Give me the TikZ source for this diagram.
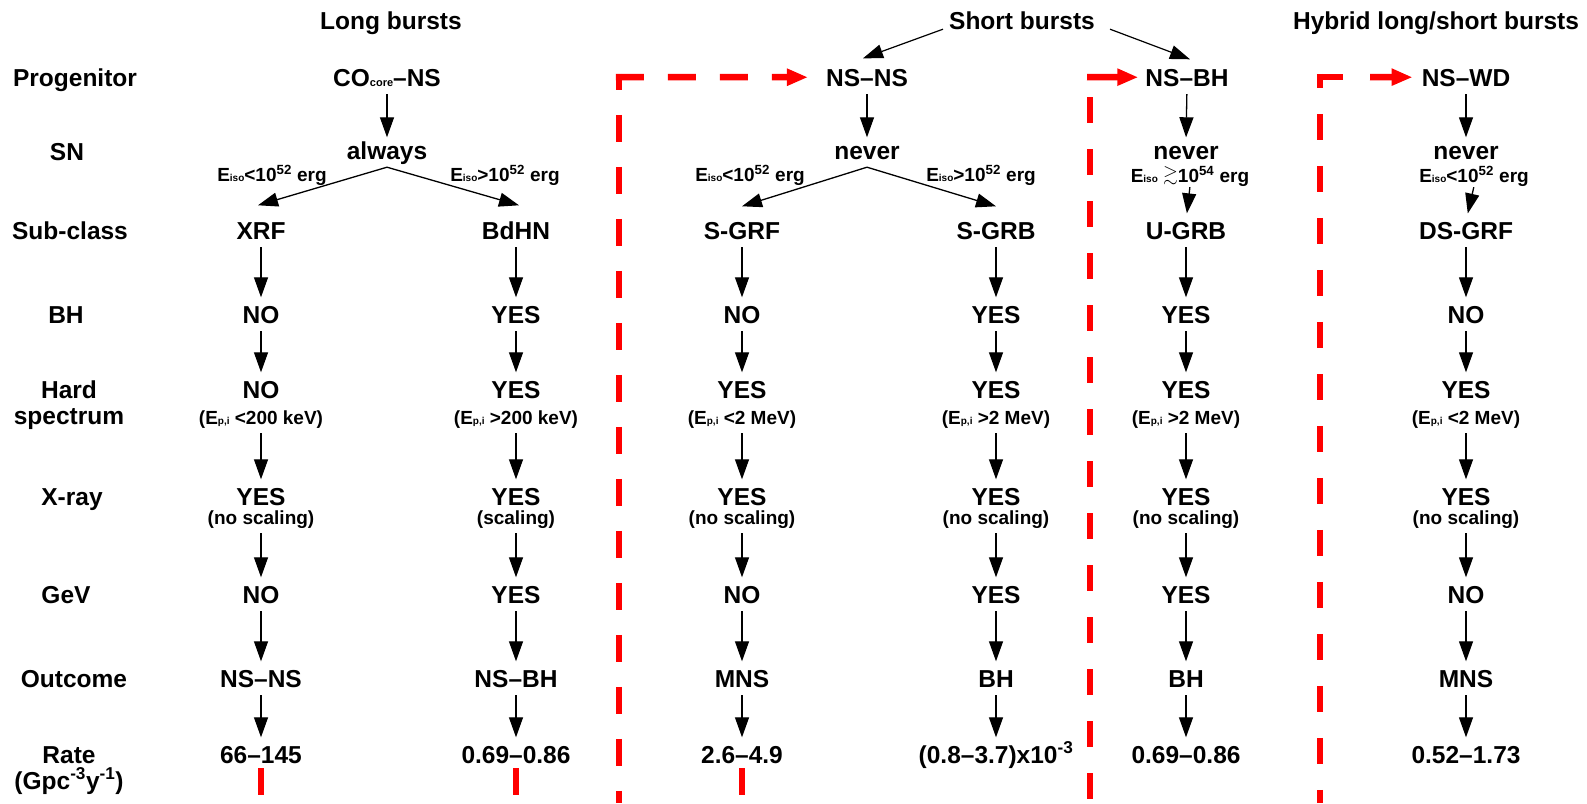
\documentclass[tikz,border=0pt]{standalone}
\usepackage{fontspec}
\usepackage{amssymb}
\setmainfont{Liberation Sans}
\usetikzlibrary{arrows.meta}
\newcommand\Ep{E{\fontsize{10}{10}\selectfont p,i}}
\newcommand\Ei{E{\fontsize{10}{10}\selectfont iso}}
\begin{document}
\begin{tikzpicture}[x=1pt,y=-1pt,
  every node/.style={inner sep=0pt, anchor=base},
  mainf/.style={font=\fontsize{24.5}{26}\selectfont\bfseries, text height=17.5pt, text depth=0pt},
  subf/.style={font=\fontsize{19}{21}\selectfont\bfseries, text height=14pt, text depth=1pt},
  eisof/.style={font=\fontsize{19}{21}\selectfont\bfseries, text height=14pt, text depth=4pt},
  arr/.style={draw=black, line width=1.3pt, -{Triangle[length=20pt,width=14pt]}, shorten <=8pt, shorten >=8pt},
  reddash/.style={draw=red, line width=6.5pt},
  redhead/.style={-{Triangle[length=21pt,width=16pt]}},
]
\useasboundingbox (0,0) rectangle (1587,803);
% titles
\node[mainf] (tl) at (391,29) {Long bursts};
\node[mainf] (ts) at (1022,29) {Short bursts};
\node[mainf] (th) at (1436,29) {Hybrid long/short bursts};
% row labels
\node[mainf] (lprog) at (75,86) {Progenitor};
\node[mainf] (lsn) at (67,160) {SN};
\node[mainf] (lsub) at (70,239) {Sub-class};
\node[mainf] (lbh) at (66,323) {BH};
\node[mainf] (lhard) at (69,398) {Hard};
\node[mainf] (lspec) at (69,424) {spectrum};
\node[mainf] (lxray) at (72,505) {X-ray};
\node[mainf] (lgev) at (66,603) {GeV};
\node[mainf] (lout) at (74,687) {Outcome};
\node[mainf] (lrate) at (69,763) {Rate};
\node[mainf] (lunit) at (69,789) {(Gpc\textsuperscript{-3}y\textsuperscript{-1})};
% progenitors
\node[mainf] (co) at (387,86) {CO{\fontsize{11}{11}\selectfont core}–NS};
\node[mainf] (nsns) at (867,86) {NS–NS};
\node[mainf] (nsbh) at (1187,86) {NS–BH};
\node[mainf] (nswd) at (1466,86) {NS–WD};
% SN
\node[mainf] (always) at (387,159) {always};
\node[mainf] (never1) at (867,159) {never};
\node[mainf] (never2) at (1186,159) {never};
\node[mainf] (never3) at (1466,159) {never};
% Eiso labels
\node[eisof] (ea1) at (272,181) {\Ei<10\textsuperscript{52} erg};
\node[eisof] (ea2) at (505,181) {\Ei>10\textsuperscript{52} erg};
\node[eisof] (ec1) at (750,181) {\Ei<10\textsuperscript{52} erg};
\node[eisof] (ec2) at (981,181) {\Ei>10\textsuperscript{52} erg};
\node[eisof] (ee) at (1190,182) {\Ei{} \raisebox{1.5pt}{$\gtrsim$}10\textsuperscript{54} erg};
\node[eisof] (ef) at (1474,182) {\Ei<10\textsuperscript{52} erg};
% column A
\node[mainf] (Asub) at (261,239) {XRF};
\node[mainf] (Abh) at (261,323) {NO};
\node[mainf] (Ahard) at (261,398) {NO};
\node[subf] (Ahs) at (261,424) {(\Ep{} <200 keV)};
\node[mainf] (Ax) at (261,505) {YES};
\node[subf] (Axs) at (261,524) {(no scaling)};
\node[mainf] (Ag) at (261,603) {NO};
\node[mainf] (Ao) at (261,687) {NS–NS};
\node[mainf] (Ar) at (261,763) {66–145};
% column B
\node[mainf] (Bsub) at (516,239) {BdHN};
\node[mainf] (Bbh) at (516,323) {YES};
\node[mainf] (Bhard) at (516,398) {YES};
\node[subf] (Bhs) at (516,424) {(\Ep{} >200 keV)};
\node[mainf] (Bx) at (516,505) {YES};
\node[subf] (Bxs) at (516,524) {(scaling)};
\node[mainf] (Bg) at (516,603) {YES};
\node[mainf] (Bo) at (516,687) {NS–BH};
\node[mainf] (Br) at (516,763) {0.69–0.86};
% column C
\node[mainf] (Csub) at (742,239) {S-GRF};
\node[mainf] (Cbh) at (742,323) {NO};
\node[mainf] (Chard) at (742,398) {YES};
\node[subf] (Chs) at (742,424) {(\Ep{} <2 MeV)};
\node[mainf] (Cx) at (742,505) {YES};
\node[subf] (Cxs) at (742,524) {(no scaling)};
\node[mainf] (Cg) at (742,603) {NO};
\node[mainf] (Co) at (742,687) {MNS};
\node[mainf] (Cr) at (742,763) {2.6–4.9};
% column D
\node[mainf] (Dsub) at (996,239) {S-GRB};
\node[mainf] (Dbh) at (996,323) {YES};
\node[mainf] (Dhard) at (996,398) {YES};
\node[subf] (Dhs) at (996,424) {(\Ep{} >2 MeV)};
\node[mainf] (Dx) at (996,505) {YES};
\node[subf] (Dxs) at (996,524) {(no scaling)};
\node[mainf] (Dg) at (996,603) {YES};
\node[mainf] (Do) at (996,687) {BH};
\node[mainf] (Dr) at (996,763) {(0.8–3.7)x10\textsuperscript{-3}};
% column E
\node[mainf] (Esub) at (1186,239) {U-GRB};
\node[mainf] (Ebh) at (1186,323) {YES};
\node[mainf] (Ehard) at (1186,398) {YES};
\node[subf] (Ehs) at (1186,424) {(\Ep{} >2 MeV)};
\node[mainf] (Ex) at (1186,505) {YES};
\node[subf] (Exs) at (1186,524) {(no scaling)};
\node[mainf] (Eg) at (1186,603) {YES};
\node[mainf] (Eo) at (1186,687) {BH};
\node[mainf] (Er) at (1186,763) {0.69–0.86};
% column F
\node[mainf] (Fsub) at (1466,239) {DS-GRF};
\node[mainf] (Fbh) at (1466,323) {NO};
\node[mainf] (Fhard) at (1466,398) {YES};
\node[subf] (Fhs) at (1466,424) {(\Ep{} <2 MeV)};
\node[mainf] (Fx) at (1466,505) {YES};
\node[subf] (Fxs) at (1466,524) {(no scaling)};
\node[mainf] (Fg) at (1466,603) {NO};
\node[mainf] (Fo) at (1466,687) {MNS};
\node[mainf] (Fr) at (1466,763) {0.52–1.73};
% vertical arrows in columns
\foreach \n in {A,B,C,D,E,F}{
  \draw[arr] (\n sub.south) -- (\n bh.north);
  \draw[arr] (\n bh.south) -- (\n hard.north);
  \draw[arr] (\n hs.south) -- (\n x.north);
  \draw[arr] (\n xs.south) -- (\n g.north);
  \draw[arr] (\n g.south) -- (\n o.north);
  \draw[arr] (\n o.south) -- (\n r.north);
}
% progenitor to SN
\draw[arr, shorten >=4pt] (co.south) -- (always.north);
\draw[arr, shorten >=4pt] (nsns.south) -- (never1.north);
\draw[arr, shorten >=4pt] (nsbh.south) -- (never2.north);
\draw[arr, shorten >=4pt] (nswd.south) -- (never3.north);
% branching
\draw[arr, shorten <=0pt, shorten >=0pt] ([yshift=-8pt]always.south) -- ([xshift=-3pt,yshift=16pt]Asub.north);
\draw[arr, shorten <=0pt, shorten >=0pt] ([yshift=-8pt]always.south) -- ([xshift=3pt,yshift=16pt]Bsub.north);
\draw[arr, shorten <=0pt, shorten >=0pt] ([yshift=-8pt]never1.south) -- ([yshift=15pt]Csub.north);
\draw[arr, shorten <=0pt, shorten >=0pt] ([yshift=-8pt]never1.south) -- ([yshift=15pt]Dsub.north);
\draw[arr, shorten <=1pt] (ee.south) -- (Esub.north);
\draw[arr, shorten <=1pt] (ef.south) -- (Fsub.north);
% short bursts arrows
\draw[arr, line width=1.2pt, shorten <=0pt, shorten >=0pt] ([xshift=-6pt]ts.south west) -- ([xshift=-4pt,yshift=10pt]nsns.north);
\draw[arr, line width=1.2pt, shorten <=0pt, shorten >=0pt] ([xshift=15pt]ts.south east) -- ([xshift=3pt,yshift=9pt]nsbh.north);
% red lines
\coordinate (r1top) at (619,73.75);
\coordinate (r1bot) at (619,803);
\coordinate (r1c) at (615.75,77);
\draw[reddash, dash pattern=on 27pt off 25pt, dash phase=11pt] (r1top) -- (r1bot);
\draw[reddash, redhead, dash pattern=on 28pt off 24pt] (r1c) -- ([xshift=-18pt]nsns.west);
\coordinate (r2top) at (1090,97);
\coordinate (r2bot) at (1090,803);
\coordinate (r2h) at (1087,77);
\draw[reddash, dash pattern=on 26pt off 26pt] (r2top) -- (r2bot);
\draw[reddash, redhead] (r2h) -- ([xshift=-7pt]nsbh.west);
\coordinate (r3top) at (1320,73.75);
\coordinate (r3bot) at (1320,803);
\coordinate (r3c) at (1316.75,77);
\coordinate (r3ce) at (1343,77);
\coordinate (r3h) at (1370,77);
\draw[reddash, dash pattern=on 26pt off 26pt, dash phase=12pt] (r3top) -- (r3bot);
\draw[reddash] (r3c) -- (r3ce);
\draw[reddash, redhead] (r3h) -- ([xshift=-9pt]nswd.west);
% short red dashes below rates
\coordinate (ra) at (261,795);
\coordinate (rb) at (516,795);
\coordinate (rc) at (742,795);
\draw[reddash] ([yshift=-5pt]Ar.south) -- (ra);
\draw[reddash] ([yshift=-5pt]Br.south) -- (rb);
\draw[reddash] ([yshift=-5pt]Cr.south) -- (rc);
\end{tikzpicture}
\end{document}
